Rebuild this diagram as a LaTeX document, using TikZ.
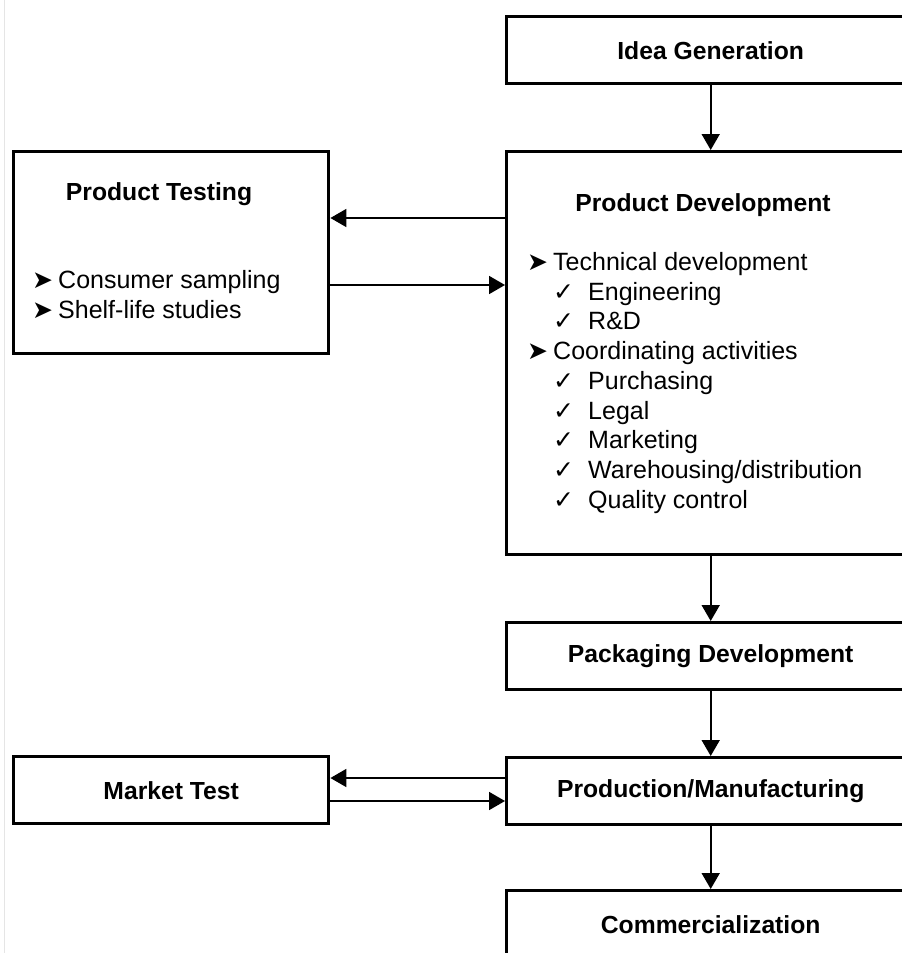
\documentclass[tikz,border=0pt]{standalone}
\usepackage{fontspec}
\setmainfont{Liberation Sans}
\newfontfamily\symfont{DejaVu Sans}
\usetikzlibrary{arrows.meta}
\begin{document}
\begin{tikzpicture}[x=1pt,y=-1pt,
  box/.style={draw, line width=3.4pt, rectangle, inner sep=0pt, minimum width=408pt, minimum height=67pt, font=\fontsize{24.7}{29.7}\selectfont\bfseries},
  lbox/.style={draw, line width=3.4pt, rectangle, inner sep=0pt, minimum width=315pt, font=\fontsize{24.7}{29.7}\selectfont\bfseries},
  arr/.style={-{Triangle[length=16pt,width=18pt]}, line width=1.8pt},
  txt/.style={anchor=base west, inner sep=0pt, font=\fontsize{25}{29.7}\selectfont},
  ttl/.style={anchor=base, inner sep=0pt, font=\fontsize{24.7}{29.7}\selectfont\bfseries}]
\useasboundingbox (0,0) rectangle (902,953);
\clip (0,0) rectangle (902,953);
\fill[white] (0,0) rectangle (902,953);
\draw[gray!20, line width=1pt] (4,0) -- (4,953);

% right column
\node[box, anchor=north west] (idea) at (505,15) {Idea Generation};
\node[box, anchor=north west, minimum height=403pt] (pd) at (505,150) {};
\node[box, anchor=north west] (pack) at (505,621) {Packaging Development};
\node[box, anchor=north west] (prod) at (505,756) {Production/Manufacturing};
\node[box, anchor=north west] (comm) at (505,889) {Commercialization};

% product development contents
\node[ttl] (pdt) at (703,211) {Product Development};
\node[txt] (pd1) at (527,270) {\makebox[26pt][l]{\symfont ➤}Technical development};
\node[txt] (pd2) at (553,300) {\makebox[35pt][l]{\symfont ✓}Engineering};
\node[txt] (pd3) at (553,329.5) {\makebox[35pt][l]{\symfont ✓}R\&D};
\node[txt] (pd4) at (527,359) {\makebox[26pt][l]{\symfont ➤}Coordinating activities};
\node[txt] (pd5) at (553,389) {\makebox[35pt][l]{\symfont ✓}Purchasing};
\node[txt] (pd6) at (553,419) {\makebox[35pt][l]{\symfont ✓}Legal};
\node[txt] (pd7) at (553,448.5) {\makebox[35pt][l]{\symfont ✓}Marketing};
\node[txt] (pd8) at (553,478) {\makebox[35pt][l]{\symfont ✓}Warehousing/distribution};
\node[txt] (pd9) at (553,508) {\makebox[35pt][l]{\symfont ✓}Quality control};

% left column
\node[lbox, anchor=north west, minimum height=202pt] (pt) at (12,150) {};
\node[ttl] (ptt) at (159,200) {Product Testing};
\node[txt] (pt1) at (32,288) {\makebox[26pt][l]{\symfont ➤}Consumer sampling};
\node[txt] (pt2) at (32,318) {\makebox[26pt][l]{\symfont ➤}Shelf-life studies};
\node[lbox, anchor=north west, minimum height=67pt] (mt) at (12,755) {Market Test};

% connectors
\coordinate (ya) at (0,218);
\coordinate (yb) at (0,285);
\coordinate (yc) at (0,778);
\coordinate (yd) at (0,801);
\draw[arr] (idea.south) -- (pd.north);
\draw[arr] (pd.west |- ya) -- (pt.east |- ya);
\draw[arr] (pt.east |- yb) -- (pd.west |- yb);
\draw[arr] (pd.south) -- (pack.north);
\draw[arr] (pack.south) -- (prod.north);
\draw[arr] (prod.west |- yc) -- (mt.east |- yc);
\draw[arr] (mt.east |- yd) -- (prod.west |- yd);
\draw[arr] (prod.south) -- (comm.north);
\end{tikzpicture}
\end{document}
